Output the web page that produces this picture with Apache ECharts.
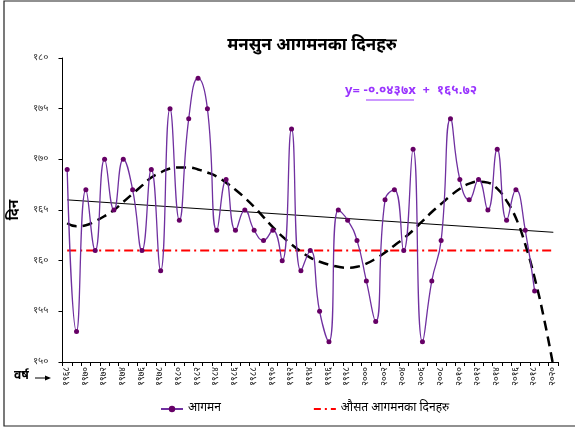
<!DOCTYPE html>
<html>
<head>
<meta charset="utf-8">
<script src="https://cdn.jsdelivr.net/npm/echarts@6/dist/echarts.min.js"></script>
<style>
  html, body { margin: 0; padding: 0; background: #fff; }
  #main { width: 575px; height: 430px; }
</style>
</head>
<body>
<div id="main"></div>
<script>
// वर्ष (1968 - 2020)
var years = [];
for (var y = 1968; y <= 2020; y++) years.push(y);

// आगमन दिन, 1968 - 2018
var arrival = [169, 153, 167, 161, 170, 165, 170, 167, 161, 169,
  159, 175, 164, 174, 178, 175, 163, 168, 163, 165,
  163, 162, 163, 160, 173, 159, 161, 155, 152, 165,
  164, 162, 158, 154, 166, 167, 161, 171, 152, 158,
  162, 174, 168, 166, 168, 165, 171, 164, 167, 163, 157];

// औसत आगमन दिन
var averageDay = 161;

// polynomial trend, 1968 - 2020
var polyTrend = [163.7, 163.4, 163.5, 163.9, 164.4, 165.0, 165.8, 166.6, 167.4, 168.2,
  168.7, 169.1, 169.2, 169.2, 169.0, 168.7, 168.3, 167.7, 167.0, 166.2,
  165.3, 164.3, 163.3, 162.4, 161.6, 160.9, 160.3, 159.9, 159.6, 159.4,
  159.3, 159.4, 159.7, 160.2, 160.8, 161.5, 162.2, 163.0, 163.9, 164.8,
  165.6, 166.4, 167.1, 167.6, 167.8, 167.7, 167.1, 165.9, 164.2, 161.6,
  158.3, 154.3, 149.6];

// linear trend line ends (1968 and 2020) as drawn
var linearStart = 166.0;
var linearEnd = 162.8;

var yTicks = [150, 155, 160, 165, 170, 175, 180];

var devDigits = ['०', '१', '२', '३', '४', '५', '६', '७', '८', '९'];
function toDev(v) {
  return String(v).replace(/[0-9]/g, function (d) { return devDigits[+d]; });
}

var linear = years.map(function (yr, i) {
  if (i === 0) return linearStart;
  if (i === years.length - 1) return linearEnd;
  return null;
});
var avgLine = years.map(function () { return averageDay; });

var dev = "'Noto Sans Devanagari', 'Lohit Devanagari', 'Noto Sans', sans-serif";

var myChart = echarts.init(document.getElementById("main"));
var option = {
  animation: false,
  textStyle: { fontFamily: dev },
  title: {
    text: "मनसुन आगमनका दिनहरु",
    left: 307,
    textAlign: "center",
    top: 33,
    textStyle: { fontSize: 17, fontWeight: "bold", color: "#000", fontFamily: dev }
  },
  grid: { left: 59, top: 58, right: 17, bottom: 68 },
  legend: {
    bottom: 10,
    left: 155,
    itemGap: 92,
    itemWidth: 22,
    itemHeight: 8,
    textStyle: { fontSize: 12, color: "#000", fontFamily: dev },
    data: [
      { name: "आगमन" },
      {
        name: "औसत आगमनका दिनहरु",
        itemStyle: { opacity: 0 },
        lineStyle: { color: "#ff0000", width: 2, type: [7, 4, 2, 4] }
      }
    ]
  },
  xAxis: {
    type: "category",
    boundaryGap: true,
    data: years.map(toDev),
    axisLine: { lineStyle: { color: "#000" } },
    axisTick: { show: true, interval: 0, length: 4, inside: false, lineStyle: { color: "#000" } },
    axisLabel: { interval: 1, rotate: 90, fontSize: 9, color: "#111", margin: 5, fontFamily: dev },
    splitLine: { show: false }
  },
  yAxis: {
    type: "value",
    min: yTicks[0],
    max: yTicks[yTicks.length - 1],
    interval: 5,
    name: "दिन",
    nameLocation: "middle",
    nameRotate: 90,
    nameGap: 33,
    nameTextStyle: { fontSize: 14, fontWeight: "bold", color: "#000", fontFamily: dev },
    axisLine: { show: true, lineStyle: { color: "#000" } },
    axisTick: { show: true, length: 4, lineStyle: { color: "#000" } },
    axisLabel: { fontSize: 10, color: "#333", margin: 14, formatter: function (v) { return toDev(v); }, fontFamily: dev },
    splitLine: { show: false }
  },
  graphic: [
    {
      type: "rect",
      shape: { x: 4, y: 1, width: 600, height: 425 },
      style: { fill: "none", stroke: "#222", lineWidth: 1.2 },
      silent: true
    },
    {
      type: "text",
      left: 14,
      top: 371,
      style: { text: "वर्ष", fontSize: 12, fontWeight: "bold", fill: "#000", fontFamily: dev }
    },
    {
      type: "polyline",
      shape: { points: [[35, 378], [49, 378]] },
      style: { stroke: "#000", lineWidth: 1 }
    },
    {
      type: "polygon",
      shape: { points: [[51, 378], [45, 375.5], [45, 380.5]] },
      style: { fill: "#000" }
    },
    {
      type: "text",
      left: 345,
      top: 85,
      style: { text: "y= -०.०४३७x  +  १६५.७२", fontSize: 13, fontWeight: "bold", fill: "#9933ff", fontFamily: dev }
    },
    {
      type: "line",
      shape: { x1: 366, y1: 100, x2: 414, y2: 100 },
      style: { stroke: "#9933ff", lineWidth: 1 }
    }
  ],
  series: [
    {
      name: "आगमन",
      type: "line",
      smooth: 0.5,
      data: arrival,
      symbol: "circle",
      symbolSize: 5,
      z: 5,
      lineStyle: { color: "#7030a0", width: 1.3 },
      itemStyle: { color: "#660066" }
    },
    {
      name: "औसत आगमनका दिनहरु",
      type: "line",
      data: avgLine,
      symbol: "none",
      z: 3,
      lineStyle: { color: "#ff0000", width: 2, type: [9, 4, 2, 4] },
      itemStyle: { color: "#ff0000" }
    },
    {
      name: "linear",
      type: "line",
      data: linear,
      connectNulls: true,
      symbol: "none",
      z: 4,
      lineStyle: { color: "#000", width: 1 }
    },
    {
      name: "poly",
      type: "line",
      smooth: true,
      data: polyTrend,
      symbol: "none",
      z: 4,
      lineStyle: { color: "#000", width: 2.5, type: [10, 6] }
    }
  ]
};
myChart.setOption(option);
</script>
</body>
</html>
